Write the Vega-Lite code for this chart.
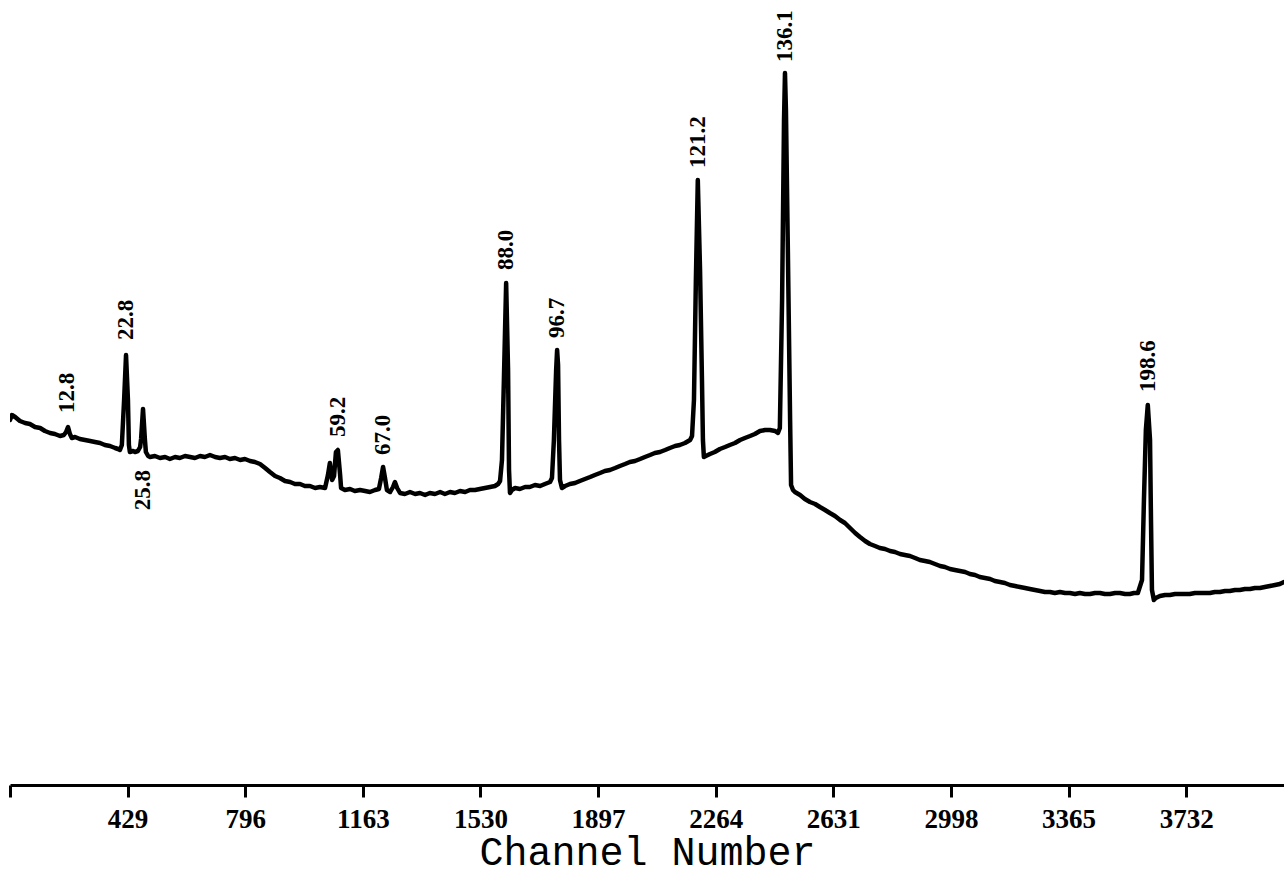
{
  "$schema": "https://vega.github.io/schema/vega-lite/v6.json",
  "width": 1274,
  "height": 785,
  "autosize": {"type": "none"},
  "padding": {"left": 10, "top": 0, "right": 0, "bottom": 91},
  "background": "white",
  "config": {"view": {"stroke": null}},
  "datasets": {
    "spectrum": [
      {"channel": 62, "counts": 365}, {"channel": 68, "counts": 370}, {"channel": 78, "counts": 368},
      {"channel": 93, "counts": 364}, {"channel": 109, "counts": 362}, {"channel": 124, "counts": 361},
      {"channel": 140, "counts": 358}, {"channel": 156, "counts": 357}, {"channel": 171, "counts": 354},
      {"channel": 187, "counts": 352}, {"channel": 202, "counts": 351}, {"channel": 218, "counts": 349},
      {"channel": 230, "counts": 350}, {"channel": 237, "counts": 353}, {"channel": 243, "counts": 358},
      {"channel": 249, "counts": 351}, {"channel": 255, "counts": 347}, {"channel": 265, "counts": 348},
      {"channel": 280, "counts": 346}, {"channel": 296, "counts": 345}, {"channel": 312, "counts": 344},
      {"channel": 327, "counts": 343}, {"channel": 343, "counts": 342}, {"channel": 358, "counts": 340},
      {"channel": 374, "counts": 339}, {"channel": 390, "counts": 337}, {"channel": 399, "counts": 336},
      {"channel": 405, "counts": 335}, {"channel": 411, "counts": 340}, {"channel": 418, "counts": 385},
      {"channel": 424, "counts": 430}, {"channel": 430, "counts": 385}, {"channel": 433, "counts": 340},
      {"channel": 436, "counts": 333}, {"channel": 446, "counts": 334}, {"channel": 452, "counts": 333},
      {"channel": 461, "counts": 334}, {"channel": 468, "counts": 338}, {"channel": 471, "counts": 346},
      {"channel": 477, "counts": 376}, {"channel": 483, "counts": 345}, {"channel": 486, "counts": 333},
      {"channel": 493, "counts": 329}, {"channel": 499, "counts": 328}, {"channel": 514, "counts": 329},
      {"channel": 530, "counts": 327}, {"channel": 546, "counts": 328}, {"channel": 561, "counts": 326},
      {"channel": 577, "counts": 328}, {"channel": 592, "counts": 327}, {"channel": 608, "counts": 329},
      {"channel": 624, "counts": 328}, {"channel": 639, "counts": 327}, {"channel": 655, "counts": 329},
      {"channel": 670, "counts": 328}, {"channel": 686, "counts": 330}, {"channel": 702, "counts": 328},
      {"channel": 717, "counts": 327}, {"channel": 733, "counts": 328}, {"channel": 748, "counts": 326},
      {"channel": 764, "counts": 327}, {"channel": 780, "counts": 325}, {"channel": 795, "counts": 326},
      {"channel": 811, "counts": 324}, {"channel": 826, "counts": 323}, {"channel": 842, "counts": 321},
      {"channel": 858, "counts": 317}, {"channel": 873, "counts": 313}, {"channel": 889, "counts": 309},
      {"channel": 904, "counts": 307}, {"channel": 920, "counts": 304}, {"channel": 936, "counts": 303},
      {"channel": 951, "counts": 301}, {"channel": 967, "counts": 301}, {"channel": 982, "counts": 299},
      {"channel": 998, "counts": 299}, {"channel": 1014, "counts": 297}, {"channel": 1029, "counts": 298},
      {"channel": 1045, "counts": 297}, {"channel": 1054, "counts": 310}, {"channel": 1060, "counts": 322},
      {"channel": 1067, "counts": 305}, {"channel": 1073, "counts": 309}, {"channel": 1079, "counts": 333},
      {"channel": 1085, "counts": 335}, {"channel": 1092, "counts": 310}, {"channel": 1095, "counts": 297},
      {"channel": 1107, "counts": 295}, {"channel": 1123, "counts": 296}, {"channel": 1138, "counts": 294},
      {"channel": 1154, "counts": 295}, {"channel": 1170, "counts": 294}, {"channel": 1185, "counts": 293},
      {"channel": 1201, "counts": 295}, {"channel": 1213, "counts": 296}, {"channel": 1220, "counts": 307},
      {"channel": 1226, "counts": 318}, {"channel": 1232, "counts": 307}, {"channel": 1238, "counts": 295},
      {"channel": 1248, "counts": 293}, {"channel": 1257, "counts": 298}, {"channel": 1263, "counts": 303},
      {"channel": 1270, "counts": 297}, {"channel": 1279, "counts": 292}, {"channel": 1294, "counts": 291},
      {"channel": 1310, "counts": 293}, {"channel": 1326, "counts": 291}, {"channel": 1341, "counts": 292},
      {"channel": 1357, "counts": 290}, {"channel": 1372, "counts": 292}, {"channel": 1388, "counts": 291},
      {"channel": 1404, "counts": 293}, {"channel": 1419, "counts": 291}, {"channel": 1435, "counts": 293},
      {"channel": 1450, "counts": 292}, {"channel": 1466, "counts": 294}, {"channel": 1482, "counts": 293},
      {"channel": 1497, "counts": 295}, {"channel": 1513, "counts": 295}, {"channel": 1528, "counts": 296},
      {"channel": 1544, "counts": 297}, {"channel": 1560, "counts": 298}, {"channel": 1575, "counts": 299},
      {"channel": 1585, "counts": 301}, {"channel": 1591, "counts": 304}, {"channel": 1597, "counts": 325},
      {"channel": 1603, "counts": 405}, {"channel": 1610, "counts": 502}, {"channel": 1616, "counts": 415},
      {"channel": 1619, "counts": 315}, {"channel": 1622, "counts": 292}, {"channel": 1628, "counts": 295},
      {"channel": 1638, "counts": 297}, {"channel": 1653, "counts": 296}, {"channel": 1669, "counts": 298},
      {"channel": 1684, "counts": 298}, {"channel": 1700, "counts": 300}, {"channel": 1716, "counts": 299},
      {"channel": 1731, "counts": 301}, {"channel": 1747, "counts": 303}, {"channel": 1753, "counts": 307},
      {"channel": 1759, "counts": 345}, {"channel": 1766, "counts": 415}, {"channel": 1769, "counts": 435},
      {"channel": 1772, "counts": 420}, {"channel": 1775, "counts": 345}, {"channel": 1778, "counts": 305},
      {"channel": 1784, "counts": 297}, {"channel": 1794, "counts": 299}, {"channel": 1809, "counts": 301},
      {"channel": 1825, "counts": 302}, {"channel": 1840, "counts": 304}, {"channel": 1856, "counts": 306},
      {"channel": 1872, "counts": 308}, {"channel": 1887, "counts": 310}, {"channel": 1903, "counts": 312},
      {"channel": 1918, "counts": 314}, {"channel": 1934, "counts": 315}, {"channel": 1950, "counts": 317},
      {"channel": 1965, "counts": 319}, {"channel": 1981, "counts": 321}, {"channel": 1996, "counts": 323},
      {"channel": 2012, "counts": 324}, {"channel": 2028, "counts": 326}, {"channel": 2043, "counts": 328},
      {"channel": 2059, "counts": 330}, {"channel": 2074, "counts": 332}, {"channel": 2090, "counts": 333},
      {"channel": 2106, "counts": 335}, {"channel": 2121, "counts": 337}, {"channel": 2137, "counts": 339},
      {"channel": 2152, "counts": 340}, {"channel": 2168, "counts": 342}, {"channel": 2184, "counts": 345},
      {"channel": 2190, "counts": 349}, {"channel": 2196, "counts": 385}, {"channel": 2202, "counts": 505},
      {"channel": 2208, "counts": 605}, {"channel": 2215, "counts": 515}, {"channel": 2221, "counts": 405},
      {"channel": 2224, "counts": 345}, {"channel": 2227, "counts": 328}, {"channel": 2233, "counts": 329},
      {"channel": 2246, "counts": 331}, {"channel": 2261, "counts": 333}, {"channel": 2277, "counts": 336},
      {"channel": 2293, "counts": 338}, {"channel": 2308, "counts": 340}, {"channel": 2324, "counts": 342},
      {"channel": 2340, "counts": 345}, {"channel": 2355, "counts": 347}, {"channel": 2371, "counts": 349},
      {"channel": 2386, "counts": 351}, {"channel": 2402, "counts": 354}, {"channel": 2418, "counts": 355},
      {"channel": 2433, "counts": 355}, {"channel": 2449, "counts": 354}, {"channel": 2458, "counts": 352},
      {"channel": 2464, "counts": 357}, {"channel": 2471, "counts": 485}, {"channel": 2477, "counts": 665},
      {"channel": 2480, "counts": 712}, {"channel": 2483, "counts": 675}, {"channel": 2489, "counts": 535},
      {"channel": 2496, "counts": 365}, {"channel": 2499, "counts": 300}, {"channel": 2505, "counts": 295},
      {"channel": 2511, "counts": 293}, {"channel": 2527, "counts": 290}, {"channel": 2542, "counts": 286},
      {"channel": 2558, "counts": 283}, {"channel": 2574, "counts": 281}, {"channel": 2589, "counts": 278},
      {"channel": 2605, "counts": 275}, {"channel": 2620, "counts": 272}, {"channel": 2636, "counts": 269},
      {"channel": 2652, "counts": 265}, {"channel": 2667, "counts": 262}, {"channel": 2683, "counts": 257},
      {"channel": 2699, "counts": 252}, {"channel": 2714, "counts": 248}, {"channel": 2730, "counts": 244},
      {"channel": 2745, "counts": 241}, {"channel": 2761, "counts": 239}, {"channel": 2776, "counts": 237},
      {"channel": 2792, "counts": 236}, {"channel": 2808, "counts": 234}, {"channel": 2823, "counts": 233},
      {"channel": 2839, "counts": 231}, {"channel": 2854, "counts": 230}, {"channel": 2870, "counts": 229},
      {"channel": 2886, "counts": 227}, {"channel": 2901, "counts": 225}, {"channel": 2917, "counts": 224},
      {"channel": 2932, "counts": 223}, {"channel": 2948, "counts": 221}, {"channel": 2964, "counts": 219},
      {"channel": 2979, "counts": 218}, {"channel": 2995, "counts": 216}, {"channel": 3010, "counts": 215},
      {"channel": 3026, "counts": 214}, {"channel": 3042, "counts": 213}, {"channel": 3057, "counts": 211},
      {"channel": 3073, "counts": 210}, {"channel": 3088, "counts": 208}, {"channel": 3104, "counts": 207},
      {"channel": 3120, "counts": 206}, {"channel": 3135, "counts": 204}, {"channel": 3151, "counts": 203},
      {"channel": 3166, "counts": 202}, {"channel": 3182, "counts": 200}, {"channel": 3198, "counts": 199},
      {"channel": 3213, "counts": 198}, {"channel": 3229, "counts": 197}, {"channel": 3244, "counts": 196},
      {"channel": 3260, "counts": 195}, {"channel": 3276, "counts": 194}, {"channel": 3291, "counts": 193},
      {"channel": 3307, "counts": 193}, {"channel": 3322, "counts": 192}, {"channel": 3338, "counts": 193},
      {"channel": 3354, "counts": 192}, {"channel": 3369, "counts": 192}, {"channel": 3385, "counts": 191},
      {"channel": 3400, "counts": 192}, {"channel": 3416, "counts": 191}, {"channel": 3432, "counts": 191},
      {"channel": 3447, "counts": 192}, {"channel": 3463, "counts": 192}, {"channel": 3478, "counts": 191},
      {"channel": 3494, "counts": 191}, {"channel": 3510, "counts": 192}, {"channel": 3525, "counts": 192},
      {"channel": 3541, "counts": 191}, {"channel": 3556, "counts": 191}, {"channel": 3569, "counts": 192},
      {"channel": 3581, "counts": 192}, {"channel": 3594, "counts": 205}, {"channel": 3600, "counts": 285},
      {"channel": 3606, "counts": 355}, {"channel": 3612, "counts": 380}, {"channel": 3619, "counts": 345},
      {"channel": 3622, "counts": 265}, {"channel": 3625, "counts": 195}, {"channel": 3631, "counts": 185},
      {"channel": 3637, "counts": 187}, {"channel": 3650, "counts": 189}, {"channel": 3666, "counts": 190},
      {"channel": 3681, "counts": 190}, {"channel": 3697, "counts": 191}, {"channel": 3712, "counts": 191},
      {"channel": 3728, "counts": 191}, {"channel": 3743, "counts": 191}, {"channel": 3759, "counts": 192},
      {"channel": 3775, "counts": 192}, {"channel": 3790, "counts": 192}, {"channel": 3806, "counts": 192},
      {"channel": 3821, "counts": 193}, {"channel": 3837, "counts": 193}, {"channel": 3853, "counts": 194},
      {"channel": 3868, "counts": 194}, {"channel": 3884, "counts": 195}, {"channel": 3899, "counts": 195},
      {"channel": 3915, "counts": 196}, {"channel": 3931, "counts": 196}, {"channel": 3946, "counts": 197},
      {"channel": 3962, "counts": 197}, {"channel": 3977, "counts": 198}, {"channel": 3993, "counts": 199},
      {"channel": 4009, "counts": 200}, {"channel": 4024, "counts": 201}, {"channel": 4037, "counts": 203}
    ],
    "labels": [
      {"channel": 240, "counts": 372, "label": "12.8", "pos": "above"},
      {"channel": 424, "counts": 445, "label": "22.8", "pos": "above"},
      {"channel": 477, "counts": 315, "label": "25.8", "pos": "below"},
      {"channel": 1085, "counts": 348, "label": "59.2", "pos": "above"},
      {"channel": 1226, "counts": 330, "label": "67.0", "pos": "above"},
      {"channel": 1610, "counts": 515, "label": "88.0", "pos": "above"},
      {"channel": 1769, "counts": 447, "label": "96.7", "pos": "above"},
      {"channel": 2208, "counts": 617, "label": "121.2", "pos": "above"},
      {"channel": 2480, "counts": 723, "label": "136.1", "pos": "above"},
      {"channel": 3612, "counts": 393, "label": "198.6", "pos": "above"}
    ]
  },
  "layer": [
    {
      "data": {"name": "spectrum"},
      "mark": {"type": "line", "color": "black", "strokeWidth": 4.5, "strokeJoin": "round", "strokeCap": "round", "clip": true},
      "encoding": {
        "x": {
          "field": "channel", "type": "quantitative",
          "scale": {"domain": [62, 4037], "nice": false, "zero": false},
          "axis": {
            "title": "Channel Number",
            "values": [62, 429, 796, 1163, 1530, 1897, 2264, 2631, 2998, 3365, 3732],
            "format": "d",
            "labelExpr": "datum.value == 62 ? '' : datum.label",
            "grid": false,
            "domainColor": "black", "domainWidth": 3,
            "tickColor": "black", "tickWidth": 3, "tickSize": 12,
            "labelFont": "Liberation Serif", "labelFontWeight": "bold", "labelFontSize": 27,
            "labelColor": "black", "labelPadding": 9, "labelFlush": false, "labelOverlap": false,
            "titleFont": "Liberation Mono", "titleFontSize": 40, "titleFontWeight": "normal",
            "titleColor": "black", "titlePadding": 0
          }
        },
        "y": {
          "field": "counts", "type": "quantitative",
          "scale": {"domain": [0, 785], "nice": false, "zero": false},
          "axis": null
        }
      }
    },
    {
      "data": {"name": "labels"},
      "transform": [{"filter": "datum.pos == 'above'"}],
      "mark": {"type": "text", "angle": 270, "align": "left", "baseline": "middle", "font": "Liberation Serif", "fontWeight": "bold", "fontSize": 23, "color": "black"},
      "encoding": {
        "x": {"field": "channel", "type": "quantitative"},
        "y": {"field": "counts", "type": "quantitative"},
        "text": {"field": "label"}
      }
    },
    {
      "data": {"name": "labels"},
      "transform": [{"filter": "datum.pos == 'below'"}],
      "mark": {"type": "text", "angle": 270, "align": "right", "baseline": "middle", "font": "Liberation Serif", "fontWeight": "bold", "fontSize": 23, "color": "black"},
      "encoding": {
        "x": {"field": "channel", "type": "quantitative"},
        "y": {"field": "counts", "type": "quantitative"},
        "text": {"field": "label"}
      }
    }
  ]
}
